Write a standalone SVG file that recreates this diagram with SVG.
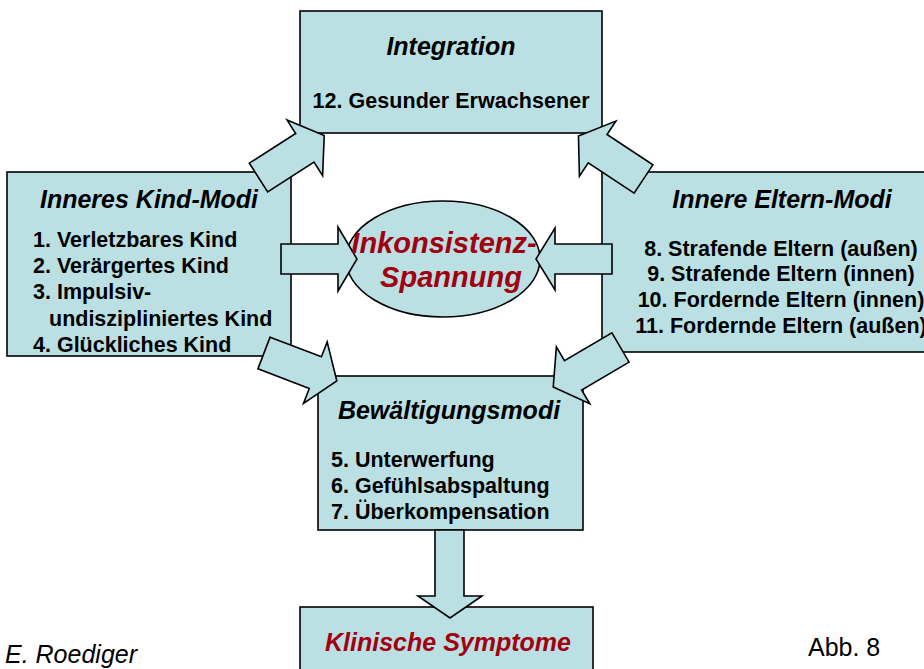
<svg xmlns="http://www.w3.org/2000/svg" width="924" height="669" viewBox="0 0 924 669">
<style>
.box{fill:#BBE0E3;stroke:#000;stroke-width:1.6}
.arr{fill:#BBE0E3;stroke:#000;stroke-width:1.6;stroke-linejoin:miter}
.t{font-family:"Liberation Sans",Arial,sans-serif;font-weight:bold;font-style:italic;font-size:25px;fill:#000;text-anchor:middle}
.i{font-family:"Liberation Sans",Arial,sans-serif;font-weight:bold;font-size:21.5px;fill:#000}
.r{font-family:"Liberation Sans",Arial,sans-serif;font-weight:bold;font-style:italic;fill:#A00010;text-anchor:middle}
.f{font-family:"Liberation Sans",Arial,sans-serif;font-size:25px;fill:#000}
</style>
<defs>
<polygon id="diag" points="0,-17 55,-17 55,-33 78,0 55,33 55,17 0,17"/>
</defs>
<rect width="924" height="669" fill="#fff"/>
<g id="integration">
<rect class="box" x="300" y="11" width="302" height="122"/>
<text class="t" x="451" y="55">Integration</text>
<text class="i" x="451" y="108" text-anchor="middle" font-size="20" textLength="277" lengthAdjust="spacing">12. Gesunder Erwachsener</text>
</g>
<g id="kind">
<rect class="box" x="7" y="172" width="284" height="184"/>
<text class="t" x="149" y="208">Inneres Kind-Modi</text>
<text class="i" x="33" y="247">1. Verletzbares Kind</text>
<text class="i" x="33" y="273">2. Verärgertes Kind</text>
<text class="i" x="33" y="299">3. Impulsiv-</text>
<text class="i" x="49" y="326">undiszipliniertes Kind</text>
<text class="i" x="33" y="352">4. Glückliches Kind</text>
</g>
<g id="eltern">
<rect class="box" x="602" y="172" width="360" height="180"/>
<text class="t" x="782" y="208">Innere Eltern-Modi</text>
<text class="i" x="781" y="256" text-anchor="middle" font-size="21.8">8. Strafende Eltern (außen)</text>
<text class="i" x="781" y="281" text-anchor="middle" font-size="21.8">9. Strafende Eltern (innen)</text>
<text class="i" x="781" y="307" text-anchor="middle" font-size="21.8">10. Fordernde Eltern (innen)</text>
<text class="i" x="781" y="333" text-anchor="middle" font-size="21.8">11. Fordernde Eltern (außen)</text>
</g>
<g id="bewaeltigung">
<rect class="box" x="318" y="376" width="265" height="154"/>
<text class="t" x="449" y="419">Bewältigungsmodi</text>
<text class="i" x="331" y="467">5. Unterwerfung</text>
<text class="i" x="331" y="493">6. Gefühlsabspaltung</text>
<text class="i" x="331" y="519">7. Überkompensation</text>
</g>
<g id="klinisch">
<rect class="box" x="300" y="607" width="293" height="80"/>
<text class="r" x="448" y="651" font-size="25">Klinische Symptome</text>
</g>
<g id="inkonsistenz">
<ellipse class="box" cx="443" cy="259" rx="97" ry="58"/>
</g>
<g id="connectors">
<use href="#diag" class="arr" transform="translate(258.5,177.5) rotate(-32.6)"/>
<use href="#diag" class="arr" transform="translate(643.5,179) rotate(213.5)"/>
<use href="#diag" class="arr" transform="translate(264,353) rotate(21)"/>
<use href="#diag" class="arr" transform="translate(620.5,347.5) rotate(149.6)"/>
<polygon class="arr" points="281,244 338,244 338,227 357,259 338,291 338,274 281,274"/>
<polygon class="arr" points="612,244 555,244 555,228 536,259 555,290 555,274 612,274"/>
<polygon class="arr" points="435,530 464,530 464,596 482,596 450,618 418,596 435,596"/>
</g>
<g id="inkonsistenz-text">
<text class="r" x="444" y="253" font-size="29">Inkonsistenz-</text>
<text class="r" x="451" y="287" font-size="29">Spannung</text>
</g>
<g id="footer">
<text class="f" x="5" y="663" font-style="italic">E. Roediger</text>
<text class="f" x="808" y="656">Abb. 8</text>
</g>
</svg>
